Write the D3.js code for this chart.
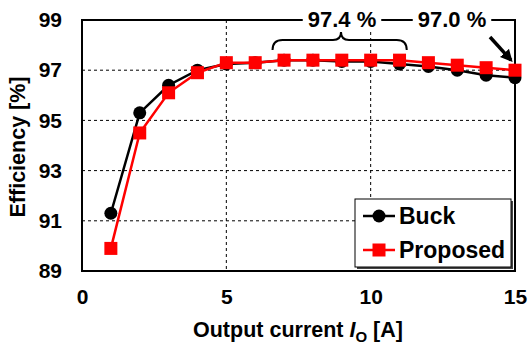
<!DOCTYPE html>
<html>
<head>
<meta charset="utf-8">
<script src="https://cdn.jsdelivr.net/npm/d3@7"></script>
<style>
  body { margin: 0; background: #fff; }
  svg { font-family: "Liberation Sans", Arial, sans-serif; font-weight: bold; }
</style>
</head>
<body>
<svg id="chart" width="529" height="345"></svg>
<script>
// data
const current = [1, 2, 3, 4, 5, 6, 7, 8, 9, 10, 11, 12, 13, 14, 15];
const buck = [91.3, 95.3, 96.4, 97.0, 97.25, 97.3, 97.4, 97.4, 97.35, 97.35, 97.25, 97.15, 97.0, 96.8, 96.7];
const proposed = [89.9, 94.5, 96.1, 96.9, 97.3, 97.3, 97.4, 97.4, 97.4, 97.4, 97.4, 97.3, 97.2, 97.1, 97.0];
const xTicks = [0, 5, 10, 15];
const yTicks = [89, 91, 93, 95, 97, 99];

const plot = { left: 82, right: 515, top: 20, bottom: 271 };

const svg = d3.select('#chart');

let x = d3.scaleLinear().domain([0, 15]).range([plot.left, plot.right]);
let y = d3.scaleLinear().domain([89, 99]).range([plot.bottom, plot.top]);

/* grid */
svg.append('g')
    .selectAll('line')
    .data(yTicks.slice(1, -1)).enter().append('line')
        .attr('x1', plot.left).attr('x2', plot.right)
        .attr('y1', d => y(d)).attr('y2', d => y(d))
        .attr('stroke', '#000').attr('stroke-width', 1)
        .attr('stroke-dasharray', '3,3');

svg.append('g')
    .selectAll('line')
    .data(xTicks.slice(1, -1)).enter().append('line')
        .attr('y1', plot.top).attr('y2', plot.bottom)
        .attr('x1', d => x(d)).attr('x2', d => x(d))
        .attr('stroke', '#000').attr('stroke-width', 1)
        .attr('stroke-dasharray', '3,3');

/* axes (labels only, frame drawn separately) */
let xAxis = d3.axisBottom(x).tickValues(xTicks).tickSize(0).tickPadding(18);
let yAxis = d3.axisLeft(y).tickValues(yTicks).tickSize(0).tickPadding(20);

let gx = svg.append('g')
    .attr('transform', 'translate(0,' + plot.bottom + ')')
    .call(xAxis);
let gy = svg.append('g')
    .attr('transform', 'translate(' + plot.left + ',0)')
    .call(yAxis);

[gx, gy].forEach(g => {
    g.select('.domain').remove();
    g.selectAll('text')
        .attr('font-size', 21)
        .attr('font-weight', 'bold')
        .attr('font-family', '"Liberation Sans", Arial, sans-serif')
        .attr('fill', '#000');
});

/* frame */
svg.append('rect')
    .attr('x', plot.left).attr('y', plot.top)
    .attr('width', plot.right - plot.left)
    .attr('height', plot.bottom - plot.top)
    .attr('fill', 'none')
    .attr('stroke', '#000')
    .attr('stroke-width', 2);

/* axis titles */
let xTitle = svg.append('text')
    .attr('x', 298).attr('y', 337)
    .attr('text-anchor', 'middle')
    .attr('font-size', 21.5);
xTitle.append('tspan').text('Output current ');
xTitle.append('tspan').attr('font-style', 'italic').text('I');
xTitle.append('tspan').attr('font-size', 15).attr('dy', 5).text('O');
xTitle.append('tspan').attr('dy', -5).text(' [A]');

svg.append('text')
    .attr('transform', 'translate(25,147) rotate(-90)')
    .attr('text-anchor', 'middle')
    .attr('font-size', 21.5)
    .text('Efficiency [%]');

/* series */
const line = d3.line()
    .x((d, i) => x(current[i]))
    .y(d => y(d));

svg.append('path')
    .datum(buck)
    .attr('d', line)
    .attr('fill', 'none')
    .attr('stroke', '#000')
    .attr('stroke-width', 2.5);

svg.append('g')
    .selectAll('circle')
    .data(buck).enter().append('circle')
        .attr('cx', (d, i) => x(current[i]))
        .attr('cy', d => y(d))
        .attr('r', 6.5)
        .attr('fill', '#000');

svg.append('path')
    .datum(proposed)
    .attr('d', line)
    .attr('fill', 'none')
    .attr('stroke', '#ff0000')
    .attr('stroke-width', 2.5);

svg.append('g')
    .selectAll('rect')
    .data(proposed).enter().append('rect')
        .attr('x', (d, i) => x(current[i]) - 6.5)
        .attr('y', d => y(d) - 6.5)
        .attr('width', 13)
        .attr('height', 13)
        .attr('fill', '#ff0000');

/* annotations */
function label(txt, cx) {
    let g = svg.append('g');
    let bg = g.append('rect').attr('fill', '#fff');
    let t = g.append('text')
        .attr('x', cx).attr('y', plot.top + 7)
        .attr('text-anchor', 'middle')
        .attr('font-size', 22)
        .text(txt);
    let b = t.node().getBBox();
    bg.attr('x', b.x - 5).attr('y', b.y + 3)
        .attr('width', b.width + 10).attr('height', b.height - 6);
}
label('97.4 %', 342);
label('97.0 %', 452);

// brace over 7..11 A
const bx0 = x(6.6), bx1 = x(11.25), bm = 341;
const by = 40, bTip = 32, bEnd = 50;
svg.append('path')
    .attr('d', 'M' + bx0 + ',' + bEnd +
        ' Q' + bx0 + ',' + by + ' ' + (bx0 + 10) + ',' + by +
        ' L' + (bm - 8) + ',' + by +
        ' Q' + bm + ',' + by + ' ' + bm + ',' + bTip +
        ' Q' + bm + ',' + by + ' ' + (bm + 8) + ',' + by +
        ' L' + (bx1 - 10) + ',' + by +
        ' Q' + bx1 + ',' + by + ' ' + bx1 + ',' + bEnd)
    .attr('fill', 'none')
    .attr('stroke', '#000')
    .attr('stroke-width', 2);

// arrow to 15 A point
svg.append('defs').append('marker')
    .attr('id', 'head')
    .attr('viewBox', '0 0 10 10')
    .attr('refX', 8).attr('refY', 5)
    .attr('markerWidth', 3.5).attr('markerHeight', 3.5)
    .attr('orient', 'auto')
    .append('path')
        .attr('d', 'M0,0 L10,5 L0,10 z')
        .attr('fill', '#000');

svg.append('line')
    .attr('x1', 490).attr('y1', 37)
    .attr('x2', x(15) - 4).attr('y2', y(97.0) - 10)
    .attr('stroke', '#000')
    .attr('stroke-width', 3.5)
    .attr('marker-end', 'url(#head)');

/* legend */
const legendItems = [
    { name: 'Buck', color: '#000', shape: 'circle' },
    { name: 'Proposed', color: '#ff0000', shape: 'square' }
];
let lg = svg.append('g');
lg.append('rect')
    .attr('x', 357).attr('y', 201)
    .attr('width', 156).attr('height', 68)
    .attr('fill', '#444');
lg.append('rect')
    .attr('x', 355).attr('y', 199)
    .attr('width', 156).attr('height', 68)
    .attr('fill', '#fff')
    .attr('stroke', '#000')
    .attr('stroke-width', 1);

legendItems.forEach((item, i) => {
    let ly = 216 + i * 34;
    lg.append('line')
        .attr('x1', 363).attr('x2', 395)
        .attr('y1', ly).attr('y2', ly)
        .attr('stroke', item.color).attr('stroke-width', 2.5);
    if (item.shape === 'circle') {
        lg.append('circle').attr('cx', 379).attr('cy', ly).attr('r', 6.5).attr('fill', item.color);
    } else {
        lg.append('rect').attr('x', 372.5).attr('y', ly - 6.5).attr('width', 13).attr('height', 13).attr('fill', item.color);
    }
    lg.append('text')
        .attr('x', 399).attr('y', ly + 8)
        .attr('font-size', 23)
        .text(item.name);
});
</script>
</body>
</html>
